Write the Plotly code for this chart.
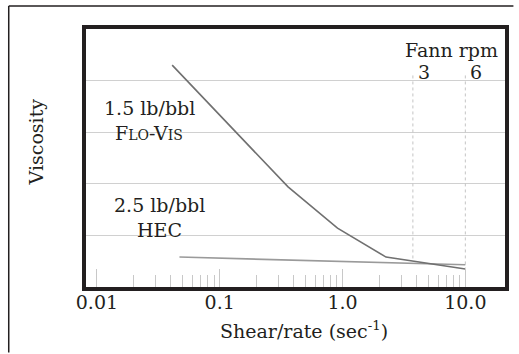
import math
import plotly.graph_objects as go

# ---- data ----
flovis_x = [0.041, 0.36, 0.91, 2.26, 10.0]
flovis_y = [4.30, 1.94, 1.14, 0.58, 0.35]
hec_x = [0.047, 10.0]
hec_y = [0.58, 0.43]
fann_x = [3.74, 10.0]           # shear rates of Fann 3 and 6 rpm markers
fann_top = [4.1, 4.1]
fann_bottom = [0.49, 0.37]
fann_labels = ["3", "6"]
x_tickvals = [0.01, 0.1, 1, 10]
x_ticktext = ["0.01", "0.1", "1.0", "10.0"]
x_minor = [0.02, 0.03, 0.04, 0.05, 0.06, 0.07, 0.08, 0.09,
           0.2, 0.3, 0.4, 0.5, 0.6, 0.7, 0.8, 0.9,
           2, 3, 4, 5, 6, 7, 8, 9]
y_gridvals = [1, 2, 3, 4]

FONT = "DejaVu Serif"
INK = "#231f20"

fig = go.Figure()

for xv, yt, yb in zip(fann_x, fann_top, fann_bottom):
    fig.add_trace(go.Scatter(x=[xv, xv], y=[yt, yb], mode="lines",
                             line=dict(color="#c4c4c4", width=1, dash="3px,3px"),
                             hoverinfo="skip", showlegend=False))

fig.add_trace(go.Scatter(x=hec_x, y=hec_y, mode="lines", name="2.5 lb/bbl HEC",
                         line=dict(color="#9a9a9a", width=1.6), showlegend=False))
fig.add_trace(go.Scatter(x=flovis_x, y=flovis_y, mode="lines", name="1.5 lb/bbl Flo-Vis",
                         line=dict(color="#707070", width=1.6), showlegend=False))

fig.update_xaxes(type="log", range=[-2.089, 1.323],
                 tickvals=x_tickvals, ticktext=x_ticktext,
                 ticks="inside", ticklen=18, tickcolor="#c8c8c8", tickwidth=1.3,
                 minor=dict(tickvals=x_minor, ticks="inside", ticklen=12,
                            tickcolor="#c8c8c8", tickwidth=1.3),
                 ticklabelstandoff=-5,
                 showgrid=False, zeroline=False,
                 showline=True, mirror=True, linewidth=3.5, linecolor=INK,
                 tickfont=dict(family=FONT, size=19, color=INK))
fig.update_yaxes(range=[0, 5], tickvals=y_gridvals, showticklabels=False,
                 showgrid=True, gridcolor="#d0d0d0", gridwidth=1.2, zeroline=False,
                 showline=True, mirror=True, linewidth=3.5, linecolor=INK)

W, H = 519, 354
L, R, T, B = 86, 10, 29, 67
pw, ph = W - L - R, H - T - B


def px(x):
    return (x - L) / pw


def py(y):
    return (H - B - y) / ph


ann = [
    dict(text="1.5 lb/bbl", x=px(150), y=py(108)),
    dict(text="F<span style='font-size:14px'>LO</span>-V<span style='font-size:14px'>IS</span>",
         x=px(150), y=py(133)),
    dict(text="2.5 lb/bbl", x=px(160), y=py(205)),
    dict(text="HEC", x=px(160), y=py(230)),
    dict(text="Fann rpm", x=px(455), y=py(50)),
    dict(text="Shear/rate (sec<sup>-1</sup>)", x=px(306), y=py(330)),
    dict(text="Viscosity", x=px(36), y=py(142), textangle=-90),
]
for a in ann:
    fig.add_annotation(xref="paper", yref="paper", showarrow=False,
                       font=dict(family=FONT, size=19, color=INK),
                       xanchor="center", yanchor="middle", **a)
for lbl, xv in zip(fann_labels, fann_x):
    fig.add_annotation(x=math.log10(xv), y=py(72), xref="x", yref="paper",
                       text=lbl, showarrow=False, xshift=11,
                       xanchor="center", yanchor="middle",
                       font=dict(family=FONT, size=19, color=INK))

# outer frame: only top and left edges are visible in the reference
# (kept strictly inside the page so nothing overflows)
fig.add_shape(type="line", xref="paper", yref="paper",
              x0=px(8), x1=px(W - 1.5), y0=py(6), y1=py(6),
              line=dict(color=INK, width=1.5), layer="below")
fig.add_shape(type="line", xref="paper", yref="paper",
              x0=px(8), x1=px(8), y0=py(6), y1=py(H - 1.5),
              line=dict(color=INK, width=1.5), layer="below")

fig.update_layout(width=W, height=H, margin=dict(l=L, r=R, t=T, b=B),
                  paper_bgcolor="white", plot_bgcolor="white")

fig.write_html("out.html")
